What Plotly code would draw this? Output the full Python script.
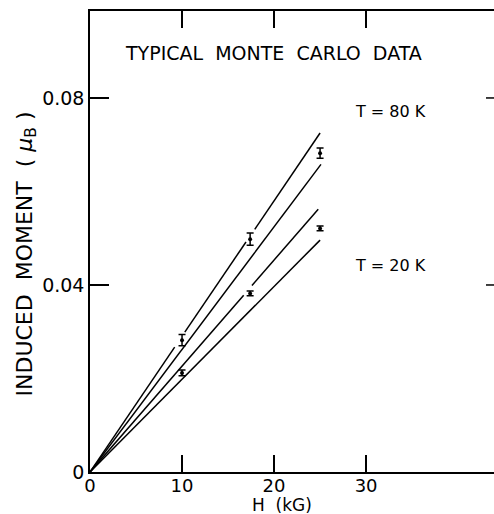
import plotly.graph_objects as go

# ---- data ----
H_points = [10, 17.4, 25]
M_80K = [0.0282, 0.0498, 0.0682]
err_80K = [0.0012, 0.0013, 0.0011]
M_20K = [0.0212, 0.0382, 0.0521]
err_20K = [0.0006, 0.0005, 0.0005]

# bounding straight lines through the origin (with gaps where they meet the error bars)
lineA_H = [0, 9.2, None, 10.3, 16.95, None, 17.9, 25]
lineA_M = [0, 0.0267, None, 0.0299, 0.0492, None, 0.0519, 0.0725]
lineB_H = [0, 25.1]
lineB_M = [0, 0.0658]
lineC_H = [0, 16.7, None, 17.6, 24.8]
lineC_M = [0, 0.0378, None, 0.0399, 0.0562]
lineD_H = [0, 25]
lineD_M = [0, 0.0496]

x_ticks = [0, 10, 20, 30]
y_ticks = [0, 0.04, 0.08]
y_ticktext = ["0", "0.04", "0.08"]

FONT = "DejaVu Sans"
W, Hgt = 494, 514
ml, mt, mb = 90, 11, 42
xr = [0, 43.9]
yr = [0, 0.0986]

fig = go.Figure()
for hx, my in [(lineA_H, lineA_M), (lineB_H, lineB_M), (lineC_H, lineC_M), (lineD_H, lineD_M)]:
    fig.add_trace(go.Scatter(x=hx, y=my, mode="lines", line=dict(color="black", width=1.5),
                             connectgaps=False, hoverinfo="skip", showlegend=False))

for m, e in [(M_80K, err_80K), (M_20K, err_20K)]:
    fig.add_trace(go.Scatter(x=H_points, y=m, mode="markers",
                             marker=dict(color="black", size=4),
                             error_y=dict(type="data", array=e, color="black", thickness=1.5, width=3.5),
                             showlegend=False))

# right-side inner ticks (right border itself lies just outside the picture)
shapes = []
for yv in [0.04, 0.08]:
    shapes.append(dict(type="line", xref="paper", yref="y", x0=1 - 8 / (W - ml), x1=1,
                       y0=yv, y1=yv, line=dict(color="black", width=1.5)))

annotations = [
    dict(x=19.9, y=0.0896, xref="x", yref="y", text="TYPICAL  MONTE  CARLO  DATA", showarrow=False,
         font=dict(family=FONT, size=19, color="black")),
    dict(x=32.7, y=0.0770, xref="x", yref="y", text="T = 80 K", showarrow=False,
         font=dict(family=FONT, size=16, color="black")),
    dict(x=32.7, y=0.0441, xref="x", yref="y", text="T = 20 K", showarrow=False,
         font=dict(family=FONT, size=16, color="black")),
    dict(x=(282 - ml) / (W - ml), y=-(505 - 472) / (472 - mt), xref="paper", yref="paper",
         text="H  (kG)", showarrow=False, yanchor="middle", font=dict(family=FONT, size=17, color="black")),
    dict(x=(10 - ml) / (W - ml), y=(472 - 254) / (472 - mt), xref="paper", yref="paper",
         text="INDUCED  MOMENT  ( <i>μ</i><sub>B</sub> )", textangle=-90, showarrow=False,
         font=dict(family=FONT, size=22, color="black")),
]

fig.update_layout(
    width=W, height=Hgt,
    margin=dict(l=ml, r=0, t=mt, b=mb, pad=0),
    paper_bgcolor="white", plot_bgcolor="white",
    font=dict(family=FONT, size=18, color="black"),
    xaxis=dict(range=xr, tickvals=x_ticks, ticktext=[str(v) for v in x_ticks],
               ticks="inside", ticklen=17, tickwidth=1.5, tickcolor="black",
               showline=True, linecolor="black", linewidth=1.5, mirror="ticks",
               showgrid=False, zeroline=False, tickfont=dict(family=FONT, size=18),
               ticklabelstandoff=-3),
    yaxis=dict(range=yr, tickvals=y_ticks, ticktext=y_ticktext,
               ticks="inside", ticklen=19, tickwidth=1.5, tickcolor="black",
               showline=True, linecolor="black", linewidth=1.5, mirror=False,
               showgrid=False, zeroline=False, tickfont=dict(family=FONT, size=19)),
    shapes=shapes,
    annotations=annotations,
)

fig.write_html("out.html", config={"displayModeBar": False},
               post_script="document.body.style.margin='0';document.body.style.padding='0';"
                           "document.body.style.overflow='hidden';")
